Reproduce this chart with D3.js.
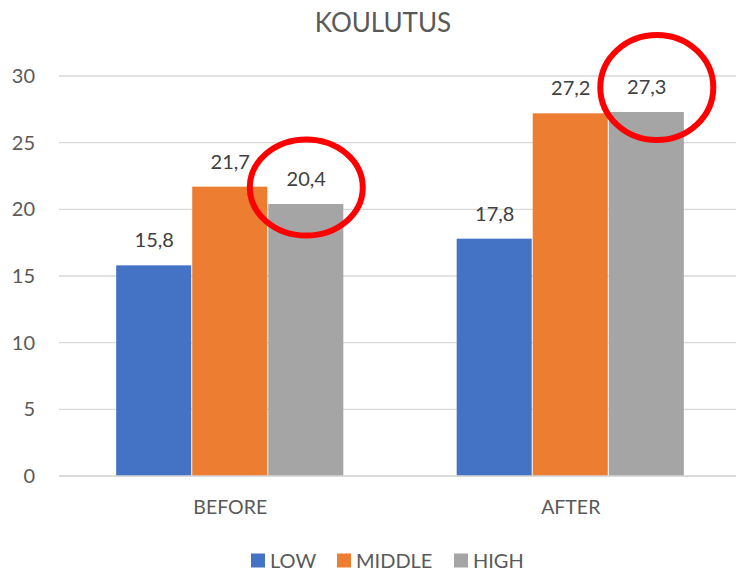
<!DOCTYPE html>
<html>
<head>
<meta charset="utf-8">
<script src="https://cdn.jsdelivr.net/npm/d3@7"></script>
<style>
  body { margin: 0; background: #fff; }
  text { font-family: Lato, "Noto Sans", sans-serif; }
</style>
</head>
<body>
<svg id="chart"></svg>
<script>
// data
const groups = ["BEFORE", "AFTER"];
const levels = ["LOW", "MIDDLE", "HIGH"];
const low = [15.8, 17.8];
const middle = [21.7, 27.2];
const high = [20.4, 27.3];
const yTicks = [0, 5, 10, 15, 20, 25, 30];
// highlighted bars: [group, level]
const circled = [["BEFORE", "HIGH"], ["AFTER", "HIGH"]];

const colors = {LOW: "#4472c4", MIDDLE: "#ed7d31", HIGH: "#a5a5a5"};

const rows = groups.map((g, i) => ({group: g, LOW: low[i], MIDDLE: middle[i], HIGH: high[i]}));

const width = 736, height = 571;
const margin = {top: 76, bottom: 95, left: 60, right: -5};

const svg = d3.select("#chart")
    .attr("width", width)
    .attr("height", height);

const x0 = d3.scaleBand()
    .domain(groups)
    .range([margin.left, width - margin.right])
    .paddingInner(0.33)
    .paddingOuter(0.165);

const x1 = d3.scaleBand()
    .domain(levels)
    .range([0, x0.bandwidth()]);

const y = d3.scaleLinear()
    .domain([0, 30])
    .range([height - margin.bottom, margin.top]);

// gridlines
svg.append("g")
    .selectAll("line")
    .data(yTicks)
    .enter().append("line")
    .attr("x1", 59)
    .attr("x2", width)
    .attr("y1", d => y(d))
    .attr("y2", d => y(d))
    .attr("stroke", "#d9d9d9")
    .attr("stroke-width", 1.3);

// y tick labels
svg.append("g")
    .selectAll("text")
    .data(yTicks)
    .enter().append("text")
    .attr("x", 35)
    .attr("y", d => y(d))
    .attr("dy", "0.35em")
    .attr("text-anchor", "end")
    .attr("fill", "#595959")
    .style("font-size", "20px")
    .text(d => d);

// bars
const grp = svg.append("g")
    .selectAll("g")
    .data(rows)
    .enter().append("g")
    .attr("transform", d => `translate(${x0(d.group)},0)`);

grp.selectAll("rect")
    .data(d => levels.map(k => ({key: k, value: d[k]})))
    .enter().append("rect")
    .attr("x", d => x1(d.key))
    .attr("y", d => y(d.value))
    .attr("width", x1.bandwidth() - 1)
    .attr("height", d => y(0) - y(d.value))
    .attr("fill", d => colors[d.key]);

grp.selectAll("text")
    .data(d => levels.map(k => ({key: k, value: d[k]})))
    .enter().append("text")
    .attr("x", d => x1(d.key) + x1.bandwidth() / 2)
    .attr("y", d => y(d.value) - 18)
    .attr("text-anchor", "middle")
    .attr("fill", "#404040")
    .style("font-size", "20px")
    .text(d => d3.format(".1f")(d.value).replace(".", ","));

// zero line on top
svg.append("line")
    .attr("x1", 59)
    .attr("x2", width)
    .attr("y1", y(0))
    .attr("y2", y(0))
    .attr("stroke", "#d9d9d9")
    .attr("stroke-width", 1.3);

// x labels
svg.append("g")
    .selectAll("text")
    .data(groups)
    .enter().append("text")
    .attr("x", d => x0(d) + x0.bandwidth() / 2)
    .attr("y", 507)
    .attr("dy", "0.35em")
    .attr("text-anchor", "middle")
    .attr("fill", "#595959")
    .style("font-size", "19.5px")
    .text(d => d);

// title
svg.append("text")
    .attr("x", 383)
    .attr("y", 23)
    .attr("dy", "0.35em")
    .attr("text-anchor", "middle")
    .attr("fill", "#595959")
    .style("font-size", "26px")
    .text("KOULUTUS");

// red circles (offsets from bar top centre)
const circleShift = [{dx: 0, dy: -16.5, ry: 48}, {dx: 10, dy: -24.5, ry: 52.5}];
circled.forEach(([g, k], i) => {
    const row = rows.find(r => r.group === g);
    const cx = x0(g) + x1(k) + x1.bandwidth() / 2 + circleShift[i].dx;
    const cy = y(row[k]) + circleShift[i].dy;
    svg.append("ellipse")
        .attr("cx", cx)
        .attr("cy", cy)
        .attr("rx", 56.5)
        .attr("ry", circleShift[i].ry)
        .attr("fill", "none")
        .attr("stroke", "#ff0000")
        .attr("stroke-width", 6);
});

// legend
const legendX = {LOW: 251, MIDDLE: 337, HIGH: 454};
const legend = svg.append("g")
    .selectAll("g")
    .data(levels)
    .enter().append("g")
    .attr("transform", d => `translate(${legendX[d]},560.5)`);

legend.append("rect")
    .attr("x", 0)
    .attr("y", -7)
    .attr("width", 14)
    .attr("height", 14)
    .attr("fill", d => colors[d]);

legend.append("text")
    .attr("x", 19)
    .attr("y", 0)
    .attr("dy", "0.35em")
    .attr("fill", "#595959")
    .style("font-size", "20px")
    .text(d => d);
</script>
</body>
</html>
